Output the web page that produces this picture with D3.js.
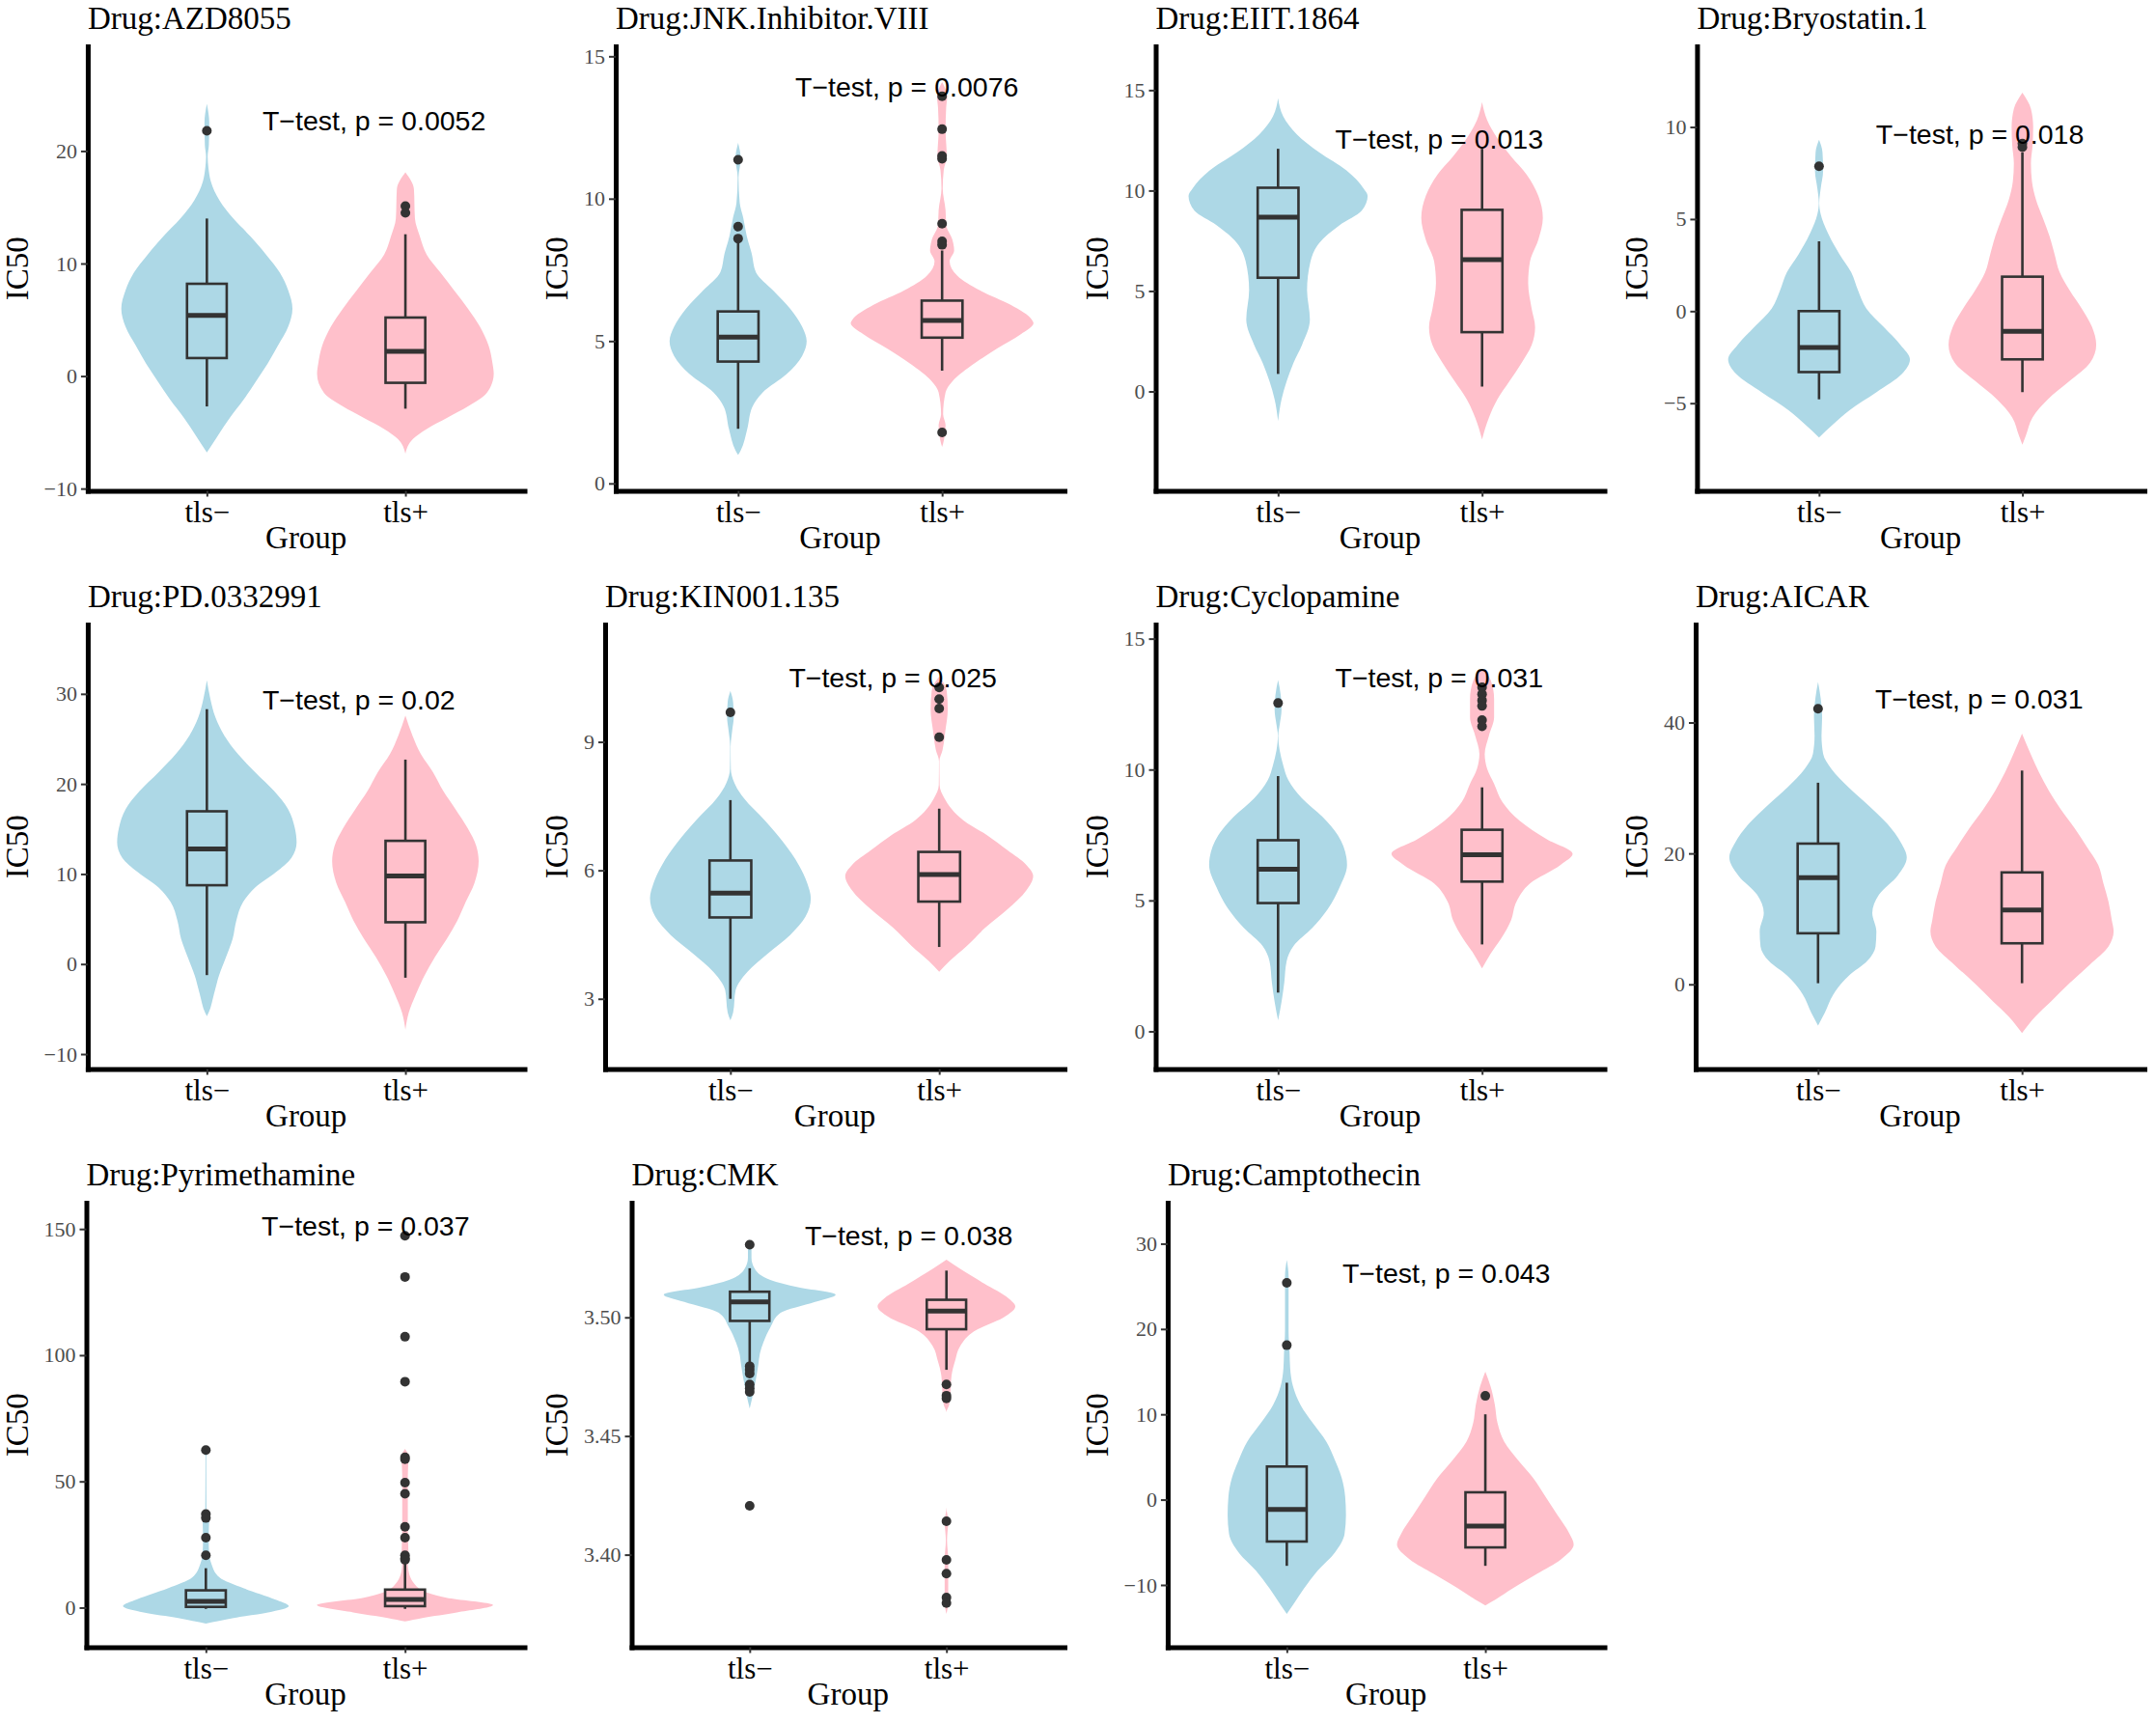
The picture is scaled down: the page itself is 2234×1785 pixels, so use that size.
<!DOCTYPE html>
<html>
<head>
<meta charset="utf-8">
<script src="https://cdn.jsdelivr.net/npm/d3@7"></script>
<style>
  body { margin: 0; background: #fff; }
</style>
</head>
<body>
<div id="chart"></div>
<script>
// ---- data ----
const drugs = ["AZD8055", "JNK.Inhibitor.VIII", "EIIT.1864", "Bryostatin.1", "PD.0332991", "KIN001.135",
    "Cyclopamine", "AICAR", "Pyrimethamine", "CMK", "Camptothecin"];
const pValues = ["0.0052", "0.0076", "0.013", "0.018", "0.02", "0.025", "0.031", "0.031", "0.037", "0.038", "0.043"];
const groups = ["tls\u2212", "tls+"];

const yDomains = [[-10.2, 29.3], [-0.26, 15.35], [-4.95, 17.18], [-9.76, 14.38], [-11.66, 37.7], [1.36, 11.74],
    [-1.44, 15.54], [-12.94, 54.97], [-15.7, 160.4], [3.361, 3.5483], [-17.3, 34.8]];
const yTicks = [[-10, 0, 10, 20], [0, 5, 10, 15], [0, 5, 10, 15], [-5, 0, 5, 10], [-10, 0, 10, 20, 30], [3, 6, 9],
    [0, 5, 10, 15], [0, 20, 40], [0, 50, 100, 150], [3.40, 3.45, 3.50], [-10, 0, 10, 20, 30]];
const yFormats = ["", "", "", "", "", "", "", "", "", ".2f", ""];

// box stats: [lower whisker, q1, median, q3, upper whisker]
const blueBoxes = [[-2.7, 1.6, 5.4, 8.2, 14.0], [1.92, 4.28, 5.14, 6.04, 8.5], [0.87, 5.66, 8.68, 10.14, 12.08],
    [-4.79, -3.31, -1.97, 0.0, 3.79], [-1.23, 8.75, 12.77, 16.96, 28.3], [3.0, 4.9, 5.47, 6.23, 7.64],
    [1.48, 4.9, 6.19, 7.3, 9.75], [0.17, 7.8, 16.3, 21.5, 30.8], [-0.5, 0.29, 2.47, 6.84, 15.6],
    [3.481, 3.4985, 3.5065, 3.5108, 3.5207], [-7.76, -4.91, -1.16, 3.88, 13.7]];
const pinkBoxes = [[-2.9, -0.6, 2.2, 5.2, 12.6], [3.96, 5.12, 5.72, 6.42, 8.18], [0.24, 2.95, 6.56, 9.04, 12.08],
    [-4.4, -2.62, -1.1, 1.87, 8.62], [-1.52, 4.64, 9.77, 13.68, 22.7], [4.21, 5.27, 5.9, 6.43, 7.44],
    [3.32, 5.72, 6.75, 7.7, 9.32], [0.17, 6.27, 11.36, 17.1, 32.66], [-0.5, 0.58, 3.2, 7.13, 17.8],
    [3.4779, 3.495, 3.5026, 3.5074, 3.5197], [-7.76, -5.6, -3.1, 0.86, 10.0]];

const blueOutliers = [[21.8], [11.37, 9.02, 8.6], [], [7.87], [], [9.69], [12.54], [42.1],
    [62.4, 37.1, 35.5, 27.7, 20.7],
    [3.5306, 3.4794, 3.4779, 3.4763, 3.4717, 3.4701, 3.4686, 3.4206], [25.4, 18.1]];
const pinkOutliers = [[15.1, 14.5], [13.6, 12.44, 11.5, 11.4, 9.12, 8.5, 8.38, 1.79], [], [9.1, 8.9], [],
    [10.27, 10.0, 9.78, 9.11], [13.14, 12.88, 12.64, 12.43, 11.89, 11.65], [],
    [147.3, 131.0, 107.3, 89.5, 59.5, 58.8, 49.5, 45.1, 32.0, 27.7, 20.7, 19.5, 18.9],
    [3.4717, 3.467, 3.4658, 3.4141, 3.3978, 3.392, 3.3819, 3.3796], [12.16]];

// violin outlines: [IC50 value, half width in category steps]
const blueViolins = [
    [[-6.8, 0], [-5.3, 0.055], [-3.7, 0.116], [-2.1, 0.185], [-0.5, 0.246], [1.1, 0.306], [2.7, 0.358], [4.4, 0.41], [6.0, 0.431], [7.6, 0.41], [9.2, 0.367], [10.8, 0.298], [12.4, 0.22], [14, 0.133], [15.6, 0.064], [17.3, 0.02], [18.5, 0.008], [19.5, 0.004], [20.5, 0.01], [22.5, 0.012], [24.2, 0]],
    [[1.0, 0], [1.15, 0.012], [1.92, 0.045], [2.69, 0.07], [3.2, 0.121], [3.84, 0.238], [4.48, 0.314], [4.99, 0.336], [5.5, 0.314], [6.14, 0.255], [6.78, 0.171], [7.42, 0.087], [8.06, 0.067], [8.7, 0.042], [9.33, 0.025], [9.85, 0.008], [10.74, 0.002], [11.4, 0.013], [11.96, 0]],
    [[-1.48, 0], [-0.4, 0.017], [0.5, 0.042], [1.41, 0.075], [2.31, 0.117], [3.58, 0.156], [5.03, 0.142], [6.47, 0.159], [7.38, 0.201], [8.28, 0.302], [9.0, 0.41], [9.73, 0.439], [10.1, 0.419], [11.0, 0.335], [11.9, 0.201], [12.8, 0.092], [13.7, 0.025], [14.6, 0]],
    [[-6.86, 0], [-6.17, 0.067], [-5.38, 0.15], [-4.4, 0.283], [-3.41, 0.408], [-2.62, 0.447], [-1.83, 0.4], [-0.85, 0.317], [0.14, 0.233], [1.12, 0.192], [2.11, 0.158], [3.1, 0.1], [4.28, 0.042], [5.27, 0.008], [5.86, 0.001], [6.65, 0.008], [7.63, 0.02], [8.62, 0.017], [9.31, 0]],
    [[-5.8, 0], [-5.4, 0.009], [-3.4, 0.035], [-1.3, 0.061], [0.74, 0.096], [2.8, 0.13], [4.8, 0.148], [6.9, 0.183], [8.5, 0.243], [10.2, 0.348], [11.8, 0.426], [13.5, 0.452], [15.1, 0.443], [17.2, 0.409], [19.2, 0.339], [21.3, 0.243], [23.3, 0.157], [25.4, 0.087], [27.4, 0.043], [29.5, 0.017], [31.5, 0]],
    [[2.5, 0], [2.68, 0.013], [3.2, 0.025], [3.63, 0.082], [4.06, 0.18], [4.49, 0.286], [4.92, 0.36], [5.35, 0.385], [5.7, 0.368], [6.13, 0.327], [6.65, 0.254], [7.17, 0.164], [7.68, 0.065], [8.03, 0.02], [8.37, 0.002], [8.89, 0.001], [9.24, 0.008], [9.58, 0.016], [9.93, 0.013], [10.19, 0]],
    [[0.42, 0], [1.13, 0.017], [1.84, 0.03], [2.68, 0.042], [3.25, 0.075], [3.95, 0.168], [4.66, 0.243], [5.51, 0.302], [6.36, 0.338], [6.64, 0.335], [7.49, 0.293], [8.19, 0.218], [8.9, 0.117], [9.6, 0.05], [10.17, 0.025], [10.73, 0.008], [11.3, 0.001], [11.72, 0.008], [12.29, 0.017], [12.85, 0.013], [13.42, 0]],
    [[-6.3, 0], [-4.35, 0.033], [-1.53, 0.075], [1.3, 0.15], [3.56, 0.241], [5.8, 0.282], [8.08, 0.286], [10.9, 0.266], [13.7, 0.299], [16.6, 0.39], [19.4, 0.435], [21.6, 0.407], [24.5, 0.34], [27.3, 0.249], [30.1, 0.15], [32.9, 0.066], [35.2, 0.025], [38.0, 0.017], [40.8, 0.02], [43.7, 0.013], [46.2, 0]],
    [[-6.3, 0], [-4.1, 0.139], [-1.9, 0.312], [0.58, 0.416], [3.2, 0.347], [7.6, 0.191], [11.9, 0.069], [17.8, 0.026], [20.7, 0.017], [27.9, 0.014], [36.7, 0.017], [38.9, 0.003], [60, 0.002], [62.4, 0.014], [64.3, 0]],
    [[3.4616, 0], [3.4647, 0.009], [3.4693, 0.021], [3.4755, 0.035], [3.4802, 0.044], [3.4848, 0.052], [3.4895, 0.07], [3.4957, 0.105], [3.5019, 0.157], [3.5065, 0.332], [3.5096, 0.437], [3.5127, 0.245], [3.5158, 0.105], [3.5204, 0.026], [3.5251, 0.009], [3.5297, 0.009], [3.5328, 0]],
    [[-13.4, 0], [-12.2, 0.035], [-10.4, 0.087], [-8.3, 0.156], [-6.2, 0.242], [-4.0, 0.291], [-1.8, 0.298], [0.34, 0.294], [2.5, 0.277], [4.66, 0.242], [6.8, 0.199], [9.0, 0.13], [11.1, 0.069], [13.3, 0.031], [15.4, 0.017], [17.2, 0.014], [19.8, 0.009], [21.9, 0.009], [24.1, 0.009], [26.2, 0.009], [28.1, 0]]
];
const pinkViolins = [
    [[-6.9, 0], [-5.6, 0.038], [-4.7, 0.107], [-3.7, 0.211], [-2.7, 0.315], [-1.5, 0.41], [0.2, 0.445], [1.1, 0.439], [2.7, 0.419], [4.4, 0.375], [6.0, 0.315], [7.6, 0.246], [9.2, 0.176], [10.8, 0.107], [12.4, 0.073], [14.0, 0.048], [16.6, 0.043], [18.1, 0]],
    [[1.28, 0], [1.4, 0.005], [2.05, 0.017], [2.43, 0.005], [3.2, 0.017], [3.58, 0.05], [4.22, 0.16], [4.73, 0.268], [5.24, 0.386], [5.63, 0.448], [5.75, 0.44], [6.27, 0.336], [6.78, 0.185], [7.29, 0.075], [7.8, 0.037], [8.18, 0.059], [8.57, 0.05], [9.08, 0.02], [9.6, 0.017], [10.36, 0.003], [11.0, 0.008], [11.5, 0.023], [12.4, 0.017], [13.2, 0.02], [13.6, 0.025], [14.1, 0]],
    [[-2.39, 0], [-1.3, 0.034], [-0.4, 0.075], [0.5, 0.134], [1.41, 0.193], [2.31, 0.243], [3.2, 0.26], [4.12, 0.243], [5.39, 0.226], [6.47, 0.235], [7.56, 0.276], [8.64, 0.298], [9.73, 0.276], [10.8, 0.218], [11.7, 0.142], [12.6, 0.075], [13.5, 0.025], [14.4, 0]],
    [[-7.26, 0], [-6.76, 0.017], [-5.77, 0.05], [-4.79, 0.125], [-3.79, 0.233], [-2.8, 0.333], [-1.83, 0.363], [-0.85, 0.342], [0.14, 0.292], [1.12, 0.233], [2.11, 0.183], [3.1, 0.158], [4.08, 0.133], [5.07, 0.1], [6.05, 0.067], [7.04, 0.047], [8.03, 0.042], [9.01, 0.05], [10.0, 0.053], [10.99, 0.042], [11.87, 0]],
    [[-7.3, 0], [-5.4, 0.017], [-3.4, 0.052], [-1.3, 0.096], [0.74, 0.148], [2.8, 0.209], [4.8, 0.261], [6.9, 0.304], [9.0, 0.348], [11.4, 0.369], [13.1, 0.357], [15.1, 0.313], [17.2, 0.252], [19.2, 0.191], [21.3, 0.139], [23.3, 0.078], [25.4, 0.035], [27.6, 0]],
    [[3.63, 0], [3.88, 0.049], [4.23, 0.131], [4.66, 0.221], [5.09, 0.327], [5.53, 0.417], [5.87, 0.45], [6.13, 0.417], [6.47, 0.327], [6.82, 0.229], [7.17, 0.115], [7.68, 0.025], [7.99, 0.002], [8.55, 0.001], [8.81, 0.016], [9.24, 0.029], [9.76, 0.041], [10.19, 0.036], [10.53, 0]],
    [[2.4, 0], [2.97, 0.042], [3.53, 0.092], [4.24, 0.142], [4.94, 0.168], [5.65, 0.235], [6.36, 0.385], [6.78, 0.444], [7.34, 0.318], [8.05, 0.184], [8.76, 0.1], [9.46, 0.059], [10.03, 0.025], [10.59, 0.013], [11.3, 0.034], [12.0, 0.059], [12.71, 0.059], [13.42, 0.042], [13.84, 0]],
    [[-7.46, 0], [-4.9, 0.066], [-2.66, 0.141], [0.17, 0.233], [3.0, 0.332], [5.8, 0.424], [8.1, 0.449], [9.8, 0.44], [12.6, 0.424], [15.4, 0.399], [18.2, 0.374], [21.1, 0.316], [23.9, 0.257], [26.7, 0.191], [29.5, 0.133], [32.4, 0.083], [35.2, 0.042], [38.3, 0]],
    [[-5.5, 0], [-4.1, 0.087], [-1.9, 0.26], [1.0, 0.442], [3.9, 0.208], [7.6, 0.069], [14.8, 0.017], [17.8, 0.014], [22.1, 0.017], [30.9, 0.014], [44, 0.014], [51.2, 0.014], [60, 0.017], [62.9, 0]],
    [[3.375, 0], [3.38, 0.009], [3.392, 0.009], [3.398, 0.009], [3.406, 0.003], [3.4141, 0.009], [3.42, 0], [3.46, 0], [3.4632, 0.014], [3.4693, 0.021], [3.4755, 0.026], [3.4817, 0.044], [3.4879, 0.07], [3.4941, 0.14], [3.5003, 0.297], [3.5046, 0.35], [3.508, 0.315], [3.5142, 0.192], [3.5204, 0.07], [3.5243, 0]],
    [[-12.4, 0], [-11.7, 0.052], [-10.4, 0.138], [-8.7, 0.26], [-7.0, 0.381], [-5.26, 0.445], [-4.0, 0.424], [-1.8, 0.363], [0.34, 0.303], [2.5, 0.242], [4.66, 0.164], [6.8, 0.095], [9.0, 0.061], [11.1, 0.048], [13.3, 0.026], [15.0, 0]]
];

// ---- drawing ----
const W = 2234, H = 1785;
const SERIF = "'Liberation Serif', 'Times New Roman', serif";
const SANS = "'Liberation Sans', Arial, sans-serif";
const colors = ["#ADD8E6", "#FFC0CB"];
const tickFont = 22;

const svg = d3.select("#chart").append("svg")
    .attr("width", W)
    .attr("height", H)
    .style("background", "#fff");

// hidden text used to measure tick label widths
let measure = svg.append("text")
    .attr("font-family", SERIF)
    .attr("font-size", tickFont)
    .attr("visibility", "hidden");

function textWidth(s) {
    measure.text(s);
    return measure.node().getComputedTextLength();
}

drugs.forEach((drug, i) => {
    let col = i % 4, row = Math.floor(i / 4);
    let cellX = col * 559.5, rowY = row * 599;
    let fmt = d3.format(yFormats[i]);

    let labelW = d3.max(yTicks[i], t => textWidth(fmt(t)));
    let left = cellX + 56.5 + labelW, right = cellX + 543.5;
    let top = rowY + 48, bottom = rowY + 508.5;

    let y = d3.scaleLinear().domain(yDomains[i]).range([bottom, top]);
    let x = d3.scalePoint().domain(groups).range([left, right]).padding(0.6);
    let step = x.step();

    let g = svg.append("g").attr("class", "panel");

    let series = [
        {grp: groups[0], violin: blueViolins[i], box: blueBoxes[i], out: blueOutliers[i], color: colors[0]},
        {grp: groups[1], violin: pinkViolins[i], box: pinkBoxes[i], out: pinkOutliers[i], color: colors[1]}
    ];

    series.forEach(s => {
        let cx = x(s.grp);

        let area = d3.area()
            .y(d => y(d[0]))
            .x0(d => cx - d[1] * step)
            .x1(d => cx + d[1] * step)
            .curve(d3.curveMonotoneY);

        g.append("path")
            .datum(s.violin)
            .attr("d", area)
            .attr("fill", s.color);

        let [lo, q1, med, q3, hi] = s.box;
        let bw = 0.1 * step;

        g.append("line")
            .attr("x1", cx).attr("x2", cx)
            .attr("y1", y(q3)).attr("y2", y(hi))
            .attr("stroke", "#333").attr("stroke-width", 2.6);
        g.append("line")
            .attr("x1", cx).attr("x2", cx)
            .attr("y1", y(q1)).attr("y2", y(lo))
            .attr("stroke", "#333").attr("stroke-width", 2.6);

        g.append("rect")
            .attr("x", cx - bw)
            .attr("width", 2 * bw)
            .attr("y", y(q3))
            .attr("height", y(q1) - y(q3))
            .attr("fill", s.color)
            .attr("stroke", "#333")
            .attr("stroke-width", 2.6);

        g.append("line")
            .attr("x1", cx - bw).attr("x2", cx + bw)
            .attr("y1", y(med)).attr("y2", y(med))
            .attr("stroke", "#333").attr("stroke-width", 5);

        g.selectAll(null)
            .data(s.out)
            .enter().append("circle")
            .attr("cx", cx)
            .attr("cy", d => y(d))
            .attr("r", 5)
            .attr("fill", "#333");
    });

    // axes
    let yAxis = g.append("g")
        .attr("transform", `translate(${left},0)`)
        .call(d3.axisLeft(y).tickValues(yTicks[i]).tickFormat(fmt).tickSize(7).tickSizeOuter(0).tickPadding(4));
    yAxis.select(".domain").attr("stroke", "#000").attr("stroke-width", 5).attr("stroke-linecap", "square");
    yAxis.selectAll(".tick line").attr("stroke", "#333").attr("stroke-width", 2);
    yAxis.selectAll(".tick text")
        .attr("font-family", SERIF)
        .attr("font-size", tickFont)
        .attr("fill", "#4d4d4d");

    let xAxis = g.append("g")
        .attr("transform", `translate(0,${bottom})`)
        .call(d3.axisBottom(x).tickSize(6).tickSizeOuter(0).tickPadding(4));
    xAxis.select(".domain").attr("stroke", "#000").attr("stroke-width", 5).attr("stroke-linecap", "square");
    xAxis.selectAll(".tick line").attr("stroke", "#333").attr("stroke-width", 2);
    xAxis.selectAll(".tick text")
        .attr("font-family", SERIF)
        .attr("font-size", 31)
        .attr("fill", "#000");

    // titles
    g.append("text")
        .attr("x", left)
        .attr("y", top - 18)
        .attr("font-family", SERIF)
        .attr("font-size", 33)
        .attr("fill", "#000")
        .text("Drug:" + drug);

    g.append("text")
        .attr("x", (left + right) / 2)
        .attr("y", bottom + 59.5)
        .attr("text-anchor", "middle")
        .attr("font-family", SERIF)
        .attr("font-size", 33)
        .attr("fill", "#000")
        .text("Group");

    g.append("text")
        .attr("transform", `translate(${cellX + 28.5},${(top + bottom) / 2}) rotate(-90)`)
        .attr("text-anchor", "middle")
        .attr("font-family", SERIF)
        .attr("font-size", 33)
        .attr("fill", "#000")
        .text("IC50");

    // p-value label sits at the highest observation
    let maxVal = d3.max([blueBoxes[i][4], pinkBoxes[i][4], ...blueOutliers[i], ...pinkOutliers[i]]);
    g.append("text")
        .attr("x", x(groups[0]) + 0.28 * step)
        .attr("y", y(maxVal))
        .attr("font-family", SANS)
        .attr("font-size", 28.5)
        .attr("fill", "#000")
        .text("T\u2212test, p = " + pValues[i]);
});

measure.remove();
</script>
</body>
</html>
